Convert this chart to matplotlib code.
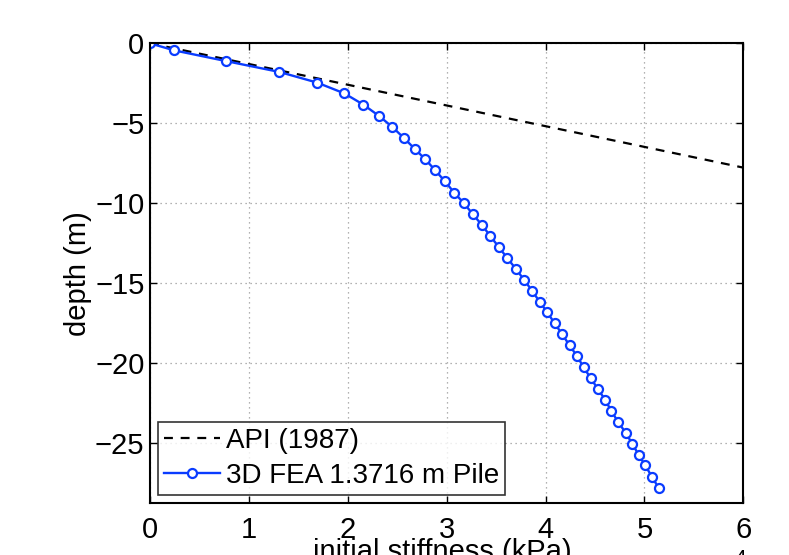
import matplotlib
matplotlib.use("Agg")
import matplotlib.pyplot as plt

plt.rcParams['font.family'] = ['Liberation Sans', 'DejaVu Sans']
plt.rcParams['axes.unicode_minus'] = True

# API (1987) line (stiffness in 1e4 kPa, depth in m)
api_stiffness = [0.0, 6.0]
api_depth = [0.0, -7.77]

# 3D FEA 1.3716 m pile
fea_stiffness = [0.0, 0.243, 0.768, 1.308, 1.692, 1.965, 2.157, 2.316, 2.447, 2.565,
                 2.676, 2.784, 2.885, 2.983, 3.077, 3.175, 3.266, 3.357, 3.441, 3.529,
                 3.613, 3.697, 3.782, 3.863, 3.940, 4.017, 4.092, 4.169, 4.243, 4.320,
                 4.385, 4.456, 4.530, 4.604, 4.665, 4.735, 4.810, 4.877, 4.941, 5.008,
                 5.076, 5.143]
fea_depth = [0.0, -0.44, -1.11, -1.79, -2.46, -3.13, -3.83, -4.54, -5.21, -5.90,
             -6.59, -7.25, -7.94, -8.63, -9.34, -10.00, -10.69, -11.36, -12.04, -12.75,
             -13.42, -14.08, -14.77, -15.46, -16.15, -16.81, -17.50, -18.19, -18.88, -19.56,
             -20.25, -20.92, -21.61, -22.29, -22.98, -23.67, -24.34, -25.03, -25.71, -26.38,
             -27.09, -27.78]

xticks = [0, 1, 2, 3, 4, 5, 6]
yticks = [0, -5, -10, -15, -20, -25]

FS = 21

fig = plt.figure(figsize=(7.89, 5.55), dpi=100)
ax = fig.add_axes([150/789, 1-503.3/555, (743.3-150)/789, (503.3-43.3)/555])

ax.plot(api_stiffness, api_depth, '--', color='black', lw=1.6, dashes=(4, 3.5),
        label='API (1987)')
ax.plot(fea_stiffness, fea_depth, '-o', color='#0a3cff', lw=1.7, markersize=6.5,
        markerfacecolor='white', markeredgewidth=1.6, label='3D FEA 1.3716 m Pile')

ax.set_xlim(0, 6)
ax.set_ylim(-28.75, 0)
ax.set_xticks(xticks)
ax.set_yticks(yticks)
ax.set_xticklabels([str(t) for t in xticks])
ax.set_yticklabels(['0' if t == 0 else '\u2212' + str(-t) for t in yticks])
ax.tick_params(direction='in', top=True, right=True, labelsize=FS, length=5, width=1)
ax.tick_params(axis='x', pad=9)
ax.tick_params(axis='y', pad=4)
ax.grid(True, linestyle=(0, (1, 3)), color='#999999', lw=0.9)
for s in ax.spines.values():
    s.set_linewidth(1.5)

ax.set_ylabel('depth (m)', fontsize=FS, labelpad=2)
fig.text(442/789, 1-566/555, 'initial stiffness (kPa)', fontsize=FS, ha='center', va='bottom')
fig.text(740/789, 1-568/555, '4', fontsize=15, ha='center', va='bottom')

leg = ax.legend(loc='lower left', fontsize=20, frameon=True, fancybox=False,
                edgecolor='black', handlelength=2.0, handletextpad=0.2,
                borderpad=0.22, labelspacing=0.32, borderaxespad=0.3)
leg.get_frame().set_linewidth(1.2)

fig.savefig('out.png', dpi=100)
